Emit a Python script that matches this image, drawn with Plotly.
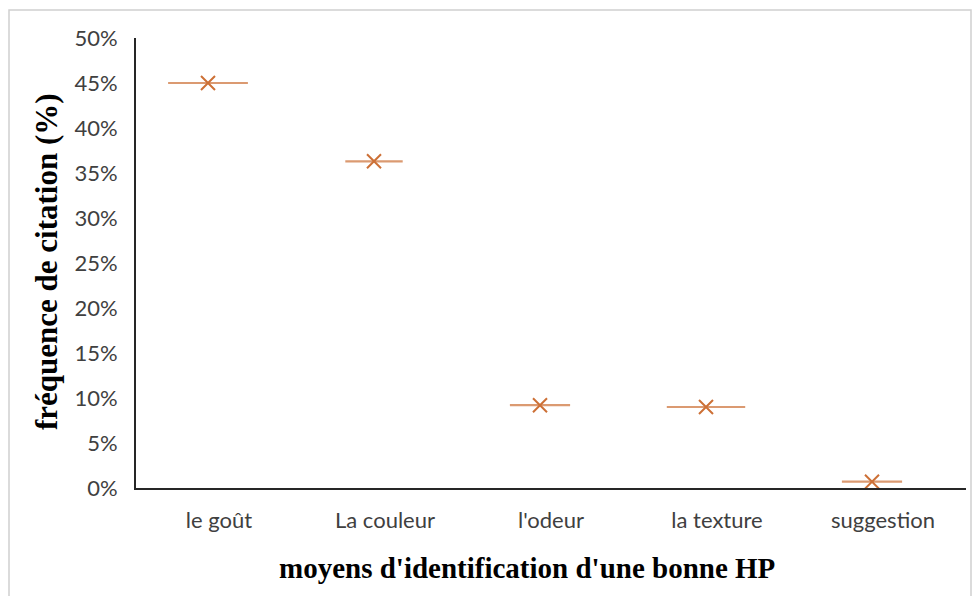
import plotly.graph_objects as go

categories = ["le goût", "La couleur", "l'odeur", "la texture", "suggestion"]
values = [0.450, 0.363, 0.092, 0.090, 0.007]
y_ticks = [0, 0.05, 0.10, 0.15, 0.20, 0.25, 0.30, 0.35, 0.40, 0.45, 0.50]
y_title = "fréquence de citation (%)"
x_title = "moyens d'identification d'une bonne HP"

# styling (not data)
color = "#CD7036"
dash_sizes = [57, 41, 43, 56, 43]

W, H = 972, 596
L, R, T, B = 136, 6, 38, 108
pw, ph = W - L - R, H - T - B


def px(x):
    return (x - L) / pw


def py(y):
    return (H - B - y) / ph


fig = go.Figure()
fig.add_trace(go.Scatter(
    x=categories, y=values, mode="markers", xaxis="x2",
    marker=dict(symbol="line-ew", size=dash_sizes, line=dict(color=color, width=2.2)),
    hoverinfo="skip", showlegend=False))
fig.add_trace(go.Scatter(
    x=categories, y=values, mode="markers", xaxis="x2",
    marker=dict(symbol="x-thin", size=14, line=dict(color=color, width=2)),
    showlegend=False))
# invisible trace to set categories on main x axis
fig.add_trace(go.Scatter(x=categories, y=[None] * len(categories), mode="markers",
                         showlegend=False, hoverinfo="skip"))

shift = 11 / (pw / 5)
fig.update_layout(
    width=W, height=H,
    margin=dict(l=L, r=R, t=T, b=B),
    paper_bgcolor="white", plot_bgcolor="white",
    font=dict(family="Lato, Open Sans, sans-serif", size=22, color="#404040"),
    xaxis=dict(showline=True, linecolor="#262626", linewidth=2, showgrid=False,
               ticks="", ticklabelstandoff=12, zeroline=False,
               categoryorder="array", categoryarray=categories, range=[-0.5, 4.5]),
    xaxis2=dict(overlaying="x", visible=False, categoryorder="array",
                categoryarray=categories, range=[-0.5 + shift, 4.5 + shift]),
    yaxis=dict(range=[0, 0.5], tickvals=y_ticks, tickformat=".0%",
               showline=True, linecolor="#262626", linewidth=2, showgrid=False,
               ticks="", ticklabelstandoff=12, zeroline=False),
    shapes=[dict(type="rect", xref="paper", yref="paper",
                 x0=px(9), x1=px(971), y0=py(600), y1=py(10),
                 line=dict(color="#D0D0D0", width=1.5), layer="below")],
    annotations=[
        dict(text="<b>" + y_title + "</b>", xref="paper", yref="paper",
             x=px(46), y=py(262), textangle=-90,
             showarrow=False, xanchor="center", yanchor="middle",
             font=dict(family="Liberation Serif, Times New Roman, serif", size=31, color="black")),
        dict(text="<b>" + x_title + "</b>", xref="paper", yref="paper",
             x=px(527), y=py(568),
             showarrow=False, xanchor="center", yanchor="middle",
             font=dict(family="Liberation Serif, Times New Roman, serif", size=29, color="black")),
    ],
)

fig.write_html("out.html", config={"displayModeBar": False},
               post_script="document.body.style.margin='0';document.body.style.overflow='hidden';")
